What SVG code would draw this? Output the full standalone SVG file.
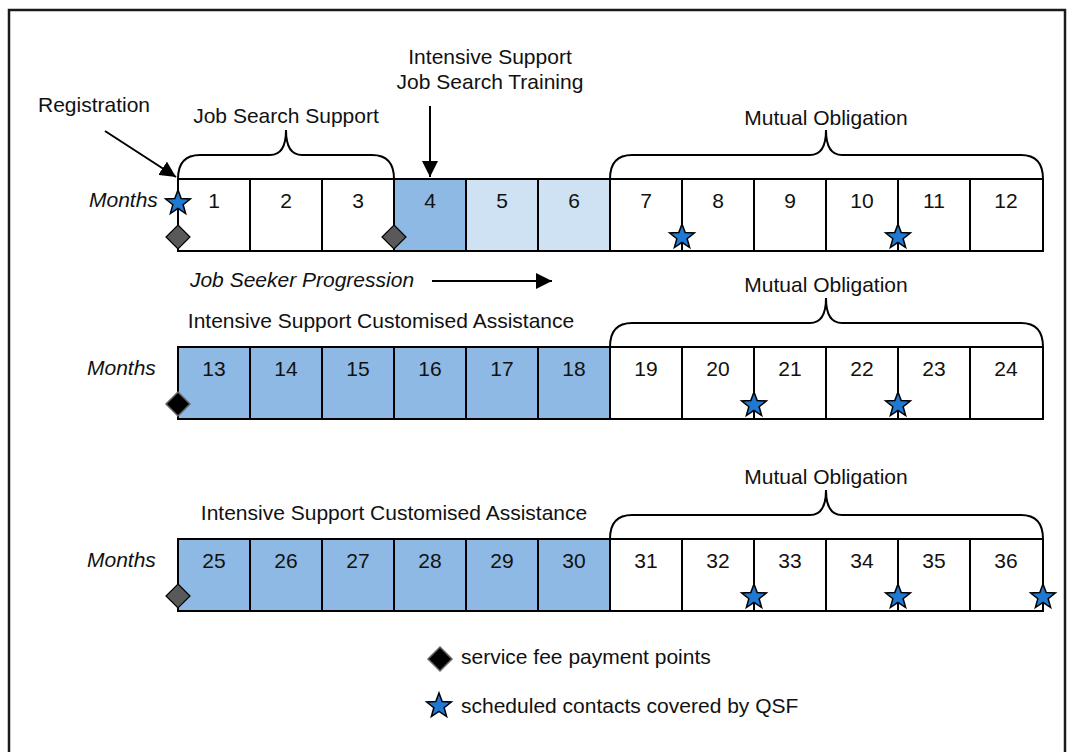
<svg xmlns="http://www.w3.org/2000/svg" width="1069" height="752" viewBox="0 0 1069 752">
  <style>
    text { font-family: "Liberation Sans", Arial, sans-serif; font-size: 21px; fill: #111; }
    .it { font-style: italic; }
    .c { text-anchor: middle; }
    .cell { stroke: #000; stroke-width: 2; }
    .w { fill: #fff; }
    .d { fill: #8db9e4; }
    .l { fill: #cfe2f3; }
    .brace { fill: none; stroke: #000; stroke-width: 2; }
    .conn { stroke: #000; stroke-width: 2; fill: none; }
  </style>
  <defs>
    <path id="star" d="M0,-13 L3.18,-4.38 L12.36,-4.02 L5.16,1.68 L7.64,10.52 L0,5.42 L-7.64,10.52 L-5.16,1.68 L-12.36,-4.02 L-3.18,-4.38 Z" fill="#1f78d1" stroke="#000" stroke-width="1.5" stroke-linejoin="miter"/>
    <path id="diamond" d="M0,-12 L12,0 L0,12 L-12,0 Z"/>
    <marker id="arrow" viewBox="0 0 10 10" refX="10" refY="5" markerWidth="8" markerHeight="8" markerUnits="strokeWidth" orient="auto">
      <path d="M0,0 L10,5 L0,10 Z" fill="#000"/>
    </marker>
  </defs>

  <rect width="1069" height="752" fill="#fff"/>
  <!-- outer frame -->
  <rect x="9" y="10" width="1056" height="760" fill="none" stroke="#1a1a1a" stroke-width="2.5"/>

  <!-- row 1: months 1-12 -->
  <g id="row1">
    <rect class="cell w" x="178" y="179" width="72" height="72"/>
    <rect class="cell w" x="250" y="179" width="72" height="72"/>
    <rect class="cell w" x="322" y="179" width="72" height="72"/>
    <rect class="cell d" x="394" y="179" width="72" height="72"/>
    <rect class="cell l" x="466" y="179" width="72" height="72"/>
    <rect class="cell l" x="538" y="179" width="72" height="72"/>
    <rect class="cell w" x="610" y="179" width="72" height="72"/>
    <rect class="cell w" x="682" y="179" width="72" height="72"/>
    <rect class="cell w" x="754" y="179" width="72" height="72"/>
    <rect class="cell w" x="826" y="179" width="72" height="72"/>
    <rect class="cell w" x="898" y="179" width="72" height="72"/>
    <rect class="cell w" x="970" y="179" width="73" height="72"/>
    <text class="it" x="89" y="207">Months</text>
    <text class="c" x="214" y="208">1</text>
    <text class="c" x="286" y="208">2</text>
    <text class="c" x="358" y="208">3</text>
    <text class="c" x="430" y="208">4</text>
    <text class="c" x="502" y="208">5</text>
    <text class="c" x="574" y="208">6</text>
    <text class="c" x="646" y="208">7</text>
    <text class="c" x="718" y="208">8</text>
    <text class="c" x="790" y="208">9</text>
    <text class="c" x="862" y="208">10</text>
    <text class="c" x="934" y="208">11</text>
    <text class="c" x="1006" y="208">12</text>
  </g>

  <!-- row 2: months 13-24 -->
  <g id="row2">
    <rect class="cell d" x="178" y="347" width="72" height="72"/>
    <rect class="cell d" x="250" y="347" width="72" height="72"/>
    <rect class="cell d" x="322" y="347" width="72" height="72"/>
    <rect class="cell d" x="394" y="347" width="72" height="72"/>
    <rect class="cell d" x="466" y="347" width="72" height="72"/>
    <rect class="cell d" x="538" y="347" width="72" height="72"/>
    <rect class="cell w" x="610" y="347" width="72" height="72"/>
    <rect class="cell w" x="682" y="347" width="72" height="72"/>
    <rect class="cell w" x="754" y="347" width="72" height="72"/>
    <rect class="cell w" x="826" y="347" width="72" height="72"/>
    <rect class="cell w" x="898" y="347" width="72" height="72"/>
    <rect class="cell w" x="970" y="347" width="73" height="72"/>
    <text class="it" x="87" y="375">Months</text>
    <text class="c" x="214" y="376">13</text>
    <text class="c" x="286" y="376">14</text>
    <text class="c" x="358" y="376">15</text>
    <text class="c" x="430" y="376">16</text>
    <text class="c" x="502" y="376">17</text>
    <text class="c" x="574" y="376">18</text>
    <text class="c" x="646" y="376">19</text>
    <text class="c" x="718" y="376">20</text>
    <text class="c" x="790" y="376">21</text>
    <text class="c" x="862" y="376">22</text>
    <text class="c" x="934" y="376">23</text>
    <text class="c" x="1006" y="376">24</text>
  </g>

  <!-- row 3: months 25-36 -->
  <g id="row3">
    <rect class="cell d" x="178" y="539" width="72" height="72"/>
    <rect class="cell d" x="250" y="539" width="72" height="72"/>
    <rect class="cell d" x="322" y="539" width="72" height="72"/>
    <rect class="cell d" x="394" y="539" width="72" height="72"/>
    <rect class="cell d" x="466" y="539" width="72" height="72"/>
    <rect class="cell d" x="538" y="539" width="72" height="72"/>
    <rect class="cell w" x="610" y="539" width="72" height="72"/>
    <rect class="cell w" x="682" y="539" width="72" height="72"/>
    <rect class="cell w" x="754" y="539" width="72" height="72"/>
    <rect class="cell w" x="826" y="539" width="72" height="72"/>
    <rect class="cell w" x="898" y="539" width="72" height="72"/>
    <rect class="cell w" x="970" y="539" width="73" height="72"/>
    <text class="it" x="87" y="567">Months</text>
    <text class="c" x="214" y="568">25</text>
    <text class="c" x="286" y="568">26</text>
    <text class="c" x="358" y="568">27</text>
    <text class="c" x="430" y="568">28</text>
    <text class="c" x="502" y="568">29</text>
    <text class="c" x="574" y="568">30</text>
    <text class="c" x="646" y="568">31</text>
    <text class="c" x="718" y="568">32</text>
    <text class="c" x="790" y="568">33</text>
    <text class="c" x="862" y="568">34</text>
    <text class="c" x="934" y="568">35</text>
    <text class="c" x="1006" y="568">36</text>
  </g>

  <!-- phase braces and their labels -->
  <g id="phase-job-search-support">
    <path class="brace" d="M178,179 Q178,155 200,155 H270 Q286,155 286,130 Q286,155 302,155 H372 Q394,155 394,179"/>
    <text class="c" x="286" y="123">Job Search Support</text>
  </g>
  <g id="phase-mutual-obligation-1">
    <path class="brace" d="M610,179 Q610,155 632,155 H810 Q826,155 826,130 Q826,155 842,155 H1021 Q1043,155 1043,179"/>
    <text class="c" x="826" y="125">Mutual Obligation</text>
  </g>
  <g id="phase-mutual-obligation-2">
    <path class="brace" d="M610,347 Q610,323 632,323 H810 Q826,323 826,298 Q826,323 842,323 H1021 Q1043,323 1043,347"/>
    <text class="c" x="826" y="292">Mutual Obligation</text>
  </g>
  <g id="phase-mutual-obligation-3">
    <path class="brace" d="M610,539 Q610,515 632,515 H810 Q826,515 826,490 Q826,515 842,515 H1021 Q1043,515 1043,539"/>
    <text class="c" x="826" y="484">Mutual Obligation</text>
  </g>
  <g id="label-customised-2">
    <text class="c" x="381" y="328">Intensive Support Customised Assistance</text>
  </g>
  <g id="label-customised-3">
    <text class="c" x="394" y="520">Intensive Support Customised Assistance</text>
  </g>
  <g id="label-registration">
    <text class="c" x="94" y="112">Registration</text>
  </g>
  <g id="label-training">
    <text class="c" x="490" y="64">Intensive Support</text>
    <text class="c" x="490" y="89">Job Search Training</text>
  </g>
  <g id="label-progression">
    <text class="it c" x="302" y="287">Job Seeker Progression</text>
  </g>

  <!-- connectors -->
  <g id="connectors">
    <line class="conn" x1="105" y1="131" x2="176" y2="177" marker-end="url(#arrow)"/>
    <line class="conn" x1="430" y1="106" x2="430" y2="177" marker-end="url(#arrow)"/>
    <line class="conn" x1="432" y1="281" x2="552" y2="281" marker-end="url(#arrow)"/>
  </g>

  <!-- service fee payment points -->
  <g id="fee-points">
    <use href="#diamond" x="178" y="237" fill="#595959" stroke="#000" stroke-width="1.2"/>
    <use href="#diamond" x="394" y="237" fill="#595959" stroke="#000" stroke-width="1.2"/>
    <use href="#diamond" x="178" y="404" fill="#000" stroke="#666" stroke-width="1.5"/>
    <use href="#diamond" x="178" y="596" fill="#595959" stroke="#000" stroke-width="1.2"/>
  </g>

  <!-- scheduled contacts -->
  <g id="contacts">
    <use href="#star" x="178" y="203"/>
    <use href="#star" x="682" y="237"/>
    <use href="#star" x="898" y="237"/>
    <use href="#star" x="754" y="405"/>
    <use href="#star" x="898" y="405"/>
    <use href="#star" x="754" y="597"/>
    <use href="#star" x="898" y="597"/>
    <use href="#star" x="1043" y="597"/>
  </g>

  <!-- legend -->
  <g id="legend">
    <use href="#diamond" x="440" y="659" fill="#000" stroke="#666" stroke-width="1.5"/>
    <text x="461" y="664">service fee payment points</text>
    <use href="#star" x="439" y="706"/>
    <text x="461" y="713">scheduled contacts covered by QSF</text>
  </g>
</svg>
